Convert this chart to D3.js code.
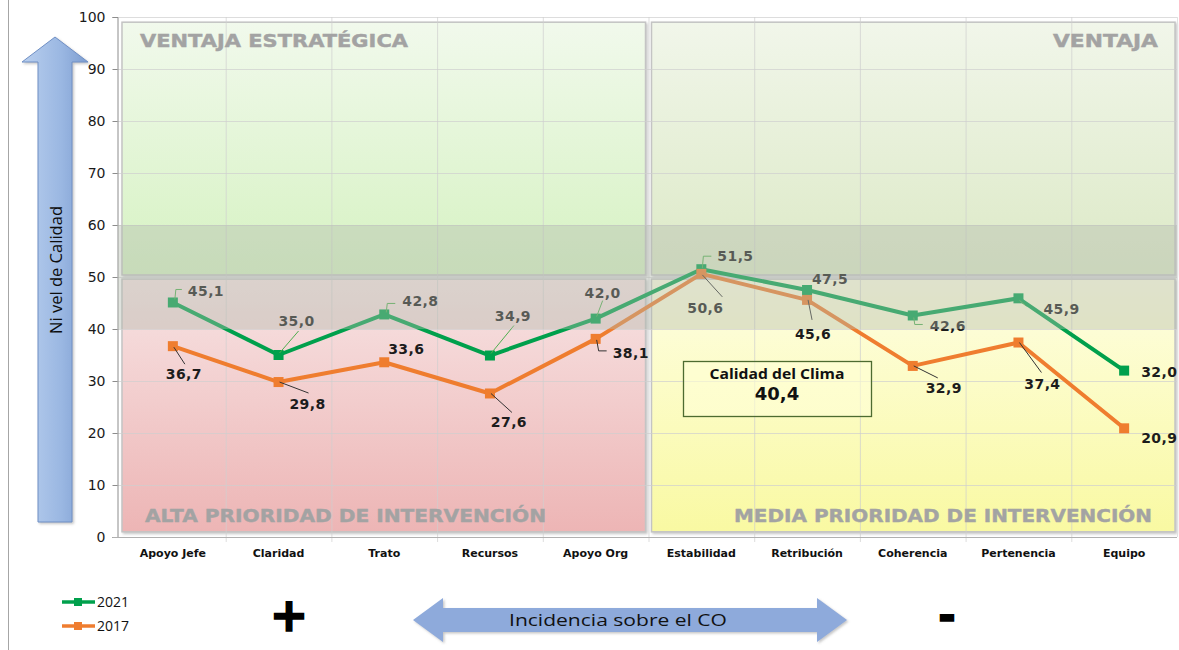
<!DOCTYPE html>
<html>
<head>
<meta charset="utf-8">
<script src="https://cdn.jsdelivr.net/npm/d3@7"></script>
<style>
  body { margin: 0; background: #fff; }
  svg { display: block; }
</style>
</head>
<body>
<div id="chart"></div>
<script>
const categories = ["Apoyo Jefe", "Claridad", "Trato", "Recursos", "Apoyo Org",
                    "Estabilidad", "Retribución", "Coherencia", "Pertenencia", "Equipo"];
const values2021 = [45.1, 35.0, 42.8, 34.9, 42.0, 51.5, 47.5, 42.6, 45.9, 32.0];
const values2017 = [36.7, 29.8, 33.6, 27.6, 38.1, 50.6, 45.6, 32.9, 37.4, 20.9];
const yTicks = [0, 10, 20, 30, 40, 50, 60, 70, 80, 90, 100];
const seriesNames = ["2021", "2017"];
const climaValue = 40.4;

// label placement (offsets from the marker), leader lines as offset polylines
const labels2021 = [
  { dx: 15, dy: -6, a: "start", lead: [[2, -3], [3, -13], [9, -13]] },
  { dx: 18, dy: -29, a: "middle", lead: [[1, -2], [20, -24]] },
  { dx: 18, dy: -8, a: "start", lead: [[2, -2], [3, -11], [11, -11]] },
  { dx: 23, dy: -35, a: "middle", lead: [[1, -2], [24, -30]] },
  { dx: 7, dy: -21, a: "middle", lead: [[1, -2], [7, -18]] },
  { dx: 16, dy: -8, a: "start", lead: [[1, -1], [2, -13], [10, -13]] },
  { dx: 23, dy: -6, a: "middle", lead: [] },
  { dx: 17, dy: 16, a: "start", lead: [[1, 2], [2, 9], [10, 9]] },
  { dx: 25, dy: 16, a: "start", lead: [[1, 2], [8, 8]] },
  { dx: 17, dy: 6, a: "start", lead: [] }
];
const labels2017 = [
  { dx: 11, dy: 33, a: "middle", lead: [[1, 1], [12, 18]] },
  { dx: 29, dy: 27, a: "middle", lead: [[1, 0], [30, 11]] },
  { dx: 22, dy: -8, a: "middle", lead: [] },
  { dx: 19, dy: 34, a: "middle", lead: [[1, 0], [22, 19]] },
  { dx: 17, dy: 19, a: "start", lead: [[1, 1], [3, 12], [11, 12]] },
  { dx: 4, dy: 39, a: "middle", lead: [[1, 1], [21, 23]] },
  { dx: 6, dy: 39, a: "middle", lead: [[1, 0], [5, 20]] },
  { dx: 31, dy: 27, a: "middle", lead: [[1, 0], [25, 12]] },
  { dx: 24, dy: 46, a: "middle", lead: [[1, 0], [23, 30]] },
  { dx: 17, dy: 15, a: "start", lead: [] }
];

const W = 1179, H = 650;
const fmt = v => d3.format(".1f")(v).replace(".", ",");

const svg = d3.select("#chart").append("svg")
  .attr("width", W).attr("height", H);

const defs = svg.append("defs");
function vGrad(id, top, bottom) {
  const g = defs.append("linearGradient").attr("id", id)
    .attr("x1", 0).attr("y1", 0).attr("x2", 0).attr("y2", 1);
  g.append("stop").attr("offset", "0%").attr("stop-color", top);
  g.append("stop").attr("offset", "100%").attr("stop-color", bottom);
}
vGrad("gLT", "#f1f9ec", "#d6f2c2");
vGrad("gRT", "#f1f6ea", "#dce9c6");
vGrad("gLB", "#f7e3e3", "#edb5b5");
vGrad("gRB", "#fefee2", "#f9f9a2");
const hg = defs.append("linearGradient").attr("id", "gArrowV")
  .attr("x1", 0).attr("y1", 0).attr("x2", 1).attr("y2", 0);
hg.append("stop").attr("offset", "0%").attr("stop-color", "#b9cfee");
hg.append("stop").attr("offset", "60%").attr("stop-color", "#9ab7e2");
hg.append("stop").attr("offset", "100%").attr("stop-color", "#7d9dd0");
const sh = defs.append("filter").attr("id", "shadow")
  .attr("x", "-5%").attr("y", "-5%").attr("width", "110%").attr("height", "110%");
sh.append("feDropShadow").attr("dx", 1.5).attr("dy", 1.5).attr("stdDeviation", 1.2)
  .attr("flood-color", "#808080").attr("flood-opacity", 0.45);

// border line on the left
svg.append("line").attr("x1", 8.5).attr("x2", 8.5).attr("y1", 0).attr("y2", H)
  .attr("stroke", "#a6a6a6").attr("stroke-width", 1);

const x = d3.scaleBand().domain(categories).range([120, 1177]);
const y = d3.scaleLinear().domain([0, 100]).range([537, 17]);
const cx = d => x(d) + x.bandwidth() / 2;

// quadrant panels
const midX = x(categories[5]);
const panels = [
  { x0: x(categories[0]) + 2, x1: midX - 3, y0: y(99), y1: y(50.4), fill: "url(#gLT)" },
  { x0: midX + 3, x1: 1175, y0: y(99), y1: y(50.4), fill: "url(#gRT)" },
  { x0: x(categories[0]) + 2, x1: midX - 3, y0: y(49.6), y1: y(1), fill: "url(#gLB)" },
  { x0: midX + 3, x1: 1175, y0: y(49.6), y1: y(1), fill: "url(#gRB)" }
];
svg.append("g").selectAll("rect").data(panels).join("rect")
  .attr("x", d => d.x0).attr("y", d => d.y0)
  .attr("width", d => d.x1 - d.x0).attr("height", d => d.y1 - d.y0)
  .attr("fill", d => d.fill)
  .attr("stroke", "#c4c4c4").attr("stroke-width", 1.5)
  .attr("filter", "url(#shadow)");

// grid
const grid = svg.append("g").attr("stroke", "#cfcfcf").attr("stroke-opacity", 0.7);
grid.selectAll(".h").data(yTicks.slice(1)).join("line")
  .attr("x1", 117).attr("x2", 1177)
  .attr("y1", d => y(d) + 0.5).attr("y2", d => y(d) + 0.5);
grid.selectAll(".v").data(categories.slice(1)).join("line")
  .attr("x1", d => x(d) + 0.5).attr("x2", d => x(d) + 0.5)
  .attr("y1", y(100)).attr("y2", y(0) + 5);
svg.append("line").attr("x1", 1177.5).attr("x2", 1177.5).attr("y1", y(100)).attr("y2", y(0))
  .attr("stroke", "#e2e2e2");

// axes
const yAxis = svg.append("g").attr("transform", "translate(117.5,0)")
  .call(d3.axisLeft(y).tickValues(yTicks).tickSize(5).tickPadding(7));
yAxis.select(".domain").attr("stroke", "#8c8c8c");
yAxis.selectAll(".tick line").attr("stroke", "#8c8c8c");
yAxis.selectAll(".tick text")
  .attr("font-family", "DejaVu Sans, sans-serif").attr("font-size", 14)
  .attr("fill", "#1a1a1a");

svg.append("line").attr("x1", 113).attr("x2", 1177).attr("y1", y(0) + 0.5).attr("y2", y(0) + 0.5)
  .attr("stroke", "#b0b0b0");

svg.append("g").selectAll("text").data(categories).join("text")
  .attr("x", d => cx(d)).attr("y", 557)
  .attr("text-anchor", "middle")
  .attr("font-family", "DejaVu Sans, sans-serif").attr("font-weight", "bold")
  .attr("font-size", 11).attr("fill", "#111")
  .text(d => d);

// quadrant titles
const qText = [
  { t: "VENTAJA ESTRATÉGICA", x: 140, y: 47, a: "start", len: 268 },
  { t: "VENTAJA", x: 1158, y: 47, a: "end", len: 105 },
  { t: "ALTA PRIORIDAD DE INTERVENCIÓN", x: 145, y: 522, a: "start", len: 401 },
  { t: "MEDIA PRIORIDAD DE INTERVENCIÓN", x: 1152, y: 522, a: "end", len: 418 }
];
svg.append("g").selectAll("text").data(qText).join("text")
  .attr("x", d => d.x).attr("y", d => d.y)
  .attr("text-anchor", d => d.a)
  .attr("textLength", d => d.len).attr("lengthAdjust", "spacingAndGlyphs")
  .attr("font-family", "DejaVu Sans, sans-serif").attr("font-weight", "bold")
  .attr("font-size", 17).attr("fill", "#a3a3a3")
  .attr("stroke", "#a3a3a3").attr("stroke-width", 0.4)
  .text(d => d.t);

// series
const series = [
  { name: seriesNames[0], values: values2021, color: "#00a04c", lab: labels2021, lead: "#4fae4f" },
  { name: seriesNames[1], values: values2017, color: "#ef7d2f", lab: labels2017, lead: "#333" }
];
const line = d3.line().x(d => cx(d.c)).y(d => y(d.v));

series.forEach(s => {
  const pts = categories.map((c, i) => ({ c, v: s.values[i], l: s.lab[i] }));
  svg.append("path").datum(pts)
    .attr("d", line).attr("fill", "none")
    .attr("stroke", s.color).attr("stroke-width", 4).attr("stroke-linejoin", "round");
  svg.append("g").selectAll("rect").data(pts).join("rect")
    .attr("x", d => cx(d.c) - 5).attr("y", d => y(d.v) - 5)
    .attr("width", 10).attr("height", 10).attr("fill", s.color);
});

series.forEach(s => {
  const pts = categories.map((c, i) => ({ c, v: s.values[i], l: s.lab[i] }));
  const g = svg.append("g");
  g.selectAll("polyline").data(pts.filter(d => d.l.lead.length)).join("polyline")
    .attr("points", d => d.l.lead.map(p => [cx(d.c) + p[0], y(d.v) + p[1]].join(",")).join(" "))
    .attr("fill", "none").attr("stroke", s.lead).attr("stroke-width", 1);
  g.selectAll("text").data(pts).join("text")
    .attr("x", d => cx(d.c) + d.l.dx).attr("y", d => y(d.v) + d.l.dy)
    .attr("text-anchor", d => d.l.a)
    .attr("font-family", "DejaVu Sans, sans-serif").attr("font-weight", "bold")
    .attr("font-size", 14).attr("letter-spacing", 0.4).attr("fill", "#1c1c1c")
    .text(d => fmt(d.v));
});

// translucent middle band 40-60
svg.append("rect")
  .attr("x", 118).attr("y", y(60)).attr("width", 1177 - 118).attr("height", y(40) - y(60))
  .attr("fill", "#b2b8ac").attr("fill-opacity", 0.4);

// Calidad del Clima box
const box = svg.append("g");
box.append("rect").attr("x", 683.5).attr("y", 361.5).attr("width", 188).attr("height", 55)
  .attr("fill", "#ffffd6").attr("fill-opacity", 0.6)
  .attr("stroke", "#4d6b30").attr("stroke-width", 1.3);
box.append("text").attr("x", 777).attr("y", 379).attr("text-anchor", "middle")
  .attr("textLength", 135).attr("lengthAdjust", "spacingAndGlyphs")
  .attr("font-family", "Open Sans, sans-serif").attr("font-weight", "bold")
  .attr("font-size", 15).attr("fill", "#111").text("Calidad del Clima");
box.append("text").attr("x", 777).attr("y", 400).attr("text-anchor", "middle")
  .attr("font-family", "DejaVu Sans, sans-serif").attr("font-weight", "bold")
  .attr("font-size", 18).attr("fill", "#111").text(fmt(climaValue));

// vertical arrow "Nivel de Calidad"
svg.append("path")
  .attr("d", "M55,37 L88,62 L72,62 L72,522 L38,522 L38,62 L22,62 Z")
  .attr("fill", "url(#gArrowV)").attr("stroke", "#6f8fc4").attr("stroke-width", 1)
  .attr("filter", "url(#shadow)");
svg.append("text")
  .attr("transform", "translate(62,270) rotate(-90)")
  .attr("text-anchor", "middle")
  .attr("textLength", 128).attr("lengthAdjust", "spacingAndGlyphs")
  .attr("font-family", "Open Sans, sans-serif").attr("font-size", 17)
  .attr("fill", "#0d0d0d").text("Ni vel de Calidad");

// legend
const leg = svg.append("g");
series.forEach((s, i) => {
  const ly = 602 + i * 24;
  leg.append("line").attr("x1", 62).attr("x2", 95).attr("y1", ly).attr("y2", ly)
    .attr("stroke", s.color).attr("stroke-width", 3.5);
  leg.append("rect").attr("x", 74).attr("y", ly - 4).attr("width", 8).attr("height", 8)
    .attr("fill", s.color);
  leg.append("text").attr("x", 97).attr("y", ly + 5)
    .attr("font-family", "Open Sans, sans-serif").attr("font-size", 14)
    .attr("fill", "#111").text(s.name);
});

// horizontal arrow "Incidencia sobre el CO"
svg.append("path")
  .attr("d", "M413,620 L443,598 L443,608 L817,608 L817,598 L847,620 L817,642 L817,632 L443,632 L443,642 Z")
  .attr("fill", "#8eaadb").attr("filter", "url(#shadow)");
svg.append("text").attr("x", 618).attr("y", 626).attr("text-anchor", "middle")
  .attr("textLength", 218).attr("lengthAdjust", "spacingAndGlyphs")
  .attr("font-family", "Open Sans, sans-serif").attr("font-size", 17)
  .attr("fill", "#111").text("Incidencia sobre el CO");

svg.append("text").attr("x", 289).attr("y", 631).attr("text-anchor", "middle")
  .attr("font-family", "DejaVu Sans, sans-serif").attr("font-weight", "bold")
  .attr("font-size", 46).attr("fill", "#000")
  .attr("stroke", "#000").attr("stroke-width", 1.6).text("+");
svg.append("text").attr("x", 947).attr("y", 630).attr("text-anchor", "middle")
  .attr("font-family", "DejaVu Sans, sans-serif").attr("font-weight", "bold")
  .attr("font-size", 42).attr("fill", "#000")
  .attr("stroke", "#000").attr("stroke-width", 1.6).text("-");
</script>
</body>
</html>
